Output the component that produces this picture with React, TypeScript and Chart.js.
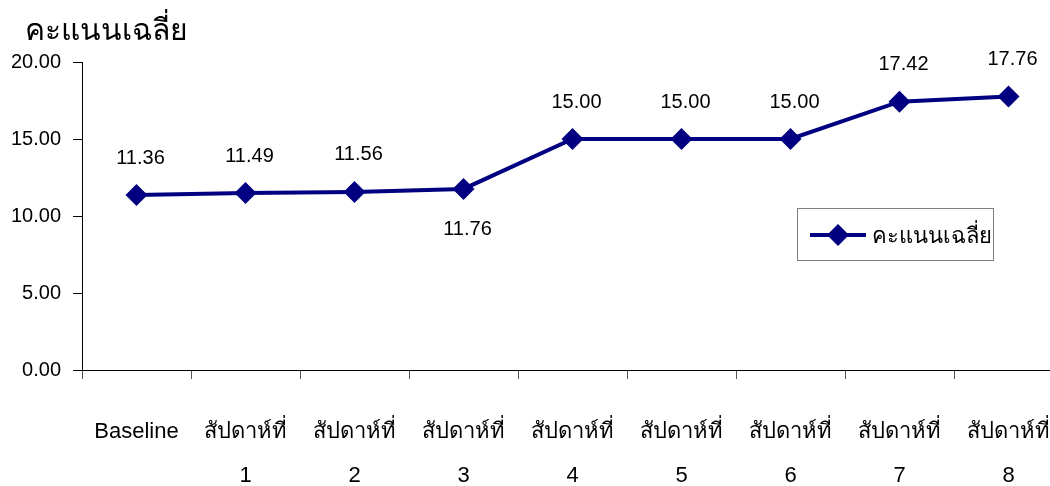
import React, { useEffect, useRef } from "react";
import { Chart, registerables } from "chart.js";

Chart.register(...registerables);

const categories: (string | string[])[] = [
  "Baseline",
  ["สัปดาห์ที่", "1"],
  ["สัปดาห์ที่", "2"],
  ["สัปดาห์ที่", "3"],
  ["สัปดาห์ที่", "4"],
  ["สัปดาห์ที่", "5"],
  ["สัปดาห์ที่", "6"],
  ["สัปดาห์ที่", "7"],
  ["สัปดาห์ที่", "8"],
];
const scores = [11.36, 11.49, 11.56, 11.76, 15.0, 15.0, 15.0, 17.42, 17.76];
const seriesName = "คะแนนเฉลี่ย";
const axisTitle = "คะแนนเฉลี่ย";
const labelsBelow = [3];

const FONT = "Arial, 'Liberation Sans', Tahoma, sans-serif";
const NAVY = "#000080";

const CANVAS_W = 1074;
const CANVAS_H = 486;
const PLOT_BOTTOM = 370;

const overlayPlugin = {
  id: "overlay",
  afterDatasetsDraw(chart: any) {
    const ctx = chart.ctx;
    const meta = chart.getDatasetMeta(0);
    ctx.save();
    // data labels
    ctx.fillStyle = "#000";
    ctx.font = `20px ${FONT}`;
    ctx.textAlign = "center";
    ctx.textBaseline = "middle";
    meta.data.forEach((pt: any, i: number) => {
      const v = chart.data.datasets[0].data[i] as number;
      const below = labelsBelow.includes(i);
      ctx.fillText(v.toFixed(2), pt.x + 4, pt.y + (below ? 41 : -37));
    });
    // axis title
    ctx.font = `30px ${FONT}`;
    ctx.textAlign = "left";
    ctx.fillText(axisTitle, 25, 32);
    // legend box
    const bx = 797.5, by = 208.5, bw = 196, bh = 52;
    ctx.fillStyle = "#fff";
    ctx.fillRect(bx, by, bw, bh);
    ctx.strokeStyle = "#808080";
    ctx.lineWidth = 1;
    ctx.strokeRect(bx, by, bw, bh);
    const ly = 235;
    ctx.strokeStyle = NAVY;
    ctx.lineWidth = 4;
    ctx.beginPath();
    ctx.moveTo(810, ly);
    ctx.lineTo(866, ly);
    ctx.stroke();
    ctx.fillStyle = NAVY;
    ctx.beginPath();
    const cx = 838, r = 11;
    ctx.moveTo(cx, ly - r);
    ctx.lineTo(cx + r, ly);
    ctx.lineTo(cx, ly + r);
    ctx.lineTo(cx - r, ly);
    ctx.closePath();
    ctx.fill();
    ctx.fillStyle = "#000";
    ctx.font = `22px ${FONT}`;
    ctx.textAlign = "left";
    ctx.textBaseline = "middle";
    ctx.fillText(seriesName, 872, ly + 2);
    ctx.restore();
  },
};

export default function App() {
  const ref = useRef<HTMLCanvasElement | null>(null);
  useEffect(() => {
    if (!ref.current) return;
    const chart = new Chart(ref.current, {
      type: "line",
      data: {
        labels: categories as any,
        datasets: [
          {
            label: seriesName,
            data: scores,
            borderColor: NAVY,
            backgroundColor: NAVY,
            borderWidth: 4,
            pointStyle: "rectRot",
            pointRadius: 11,
            pointBorderWidth: 0,
            pointBackgroundColor: NAVY,
            tension: 0,
          },
        ],
      },
      options: {
        responsive: false,
        animation: false,
        layout: { padding: { left: 0, top: 62, right: 7, bottom: 0 } },
        plugins: {
          legend: { display: false },
          tooltip: { enabled: false },
          title: { display: false },
        },
        scales: {
          x: {
            type: "category",
            offset: true,
            grid: {
              offset: true,
              drawOnChartArea: false,
              drawTicks: true,
              tickLength: 9,
              color: "#555",
            },
            border: { display: true, color: "#000", width: 1 },
            ticks: {
              color: "#000",
              font: { family: FONT, size: 22, lineHeight: 2.0 },
              padding: 31,
              maxRotation: 0,
              autoSkip: false,
            },
            afterFit: (s: any) => {
              s.height = CANVAS_H - PLOT_BOTTOM;
              s.paddingLeft = 0;
              s.paddingRight = 0;
            },
          },
          y: {
            min: 0,
            max: 20,
            grid: {
              drawOnChartArea: false,
              drawTicks: true,
              tickLength: 9,
              color: "#000",
            },
            border: { display: true, color: "#000", width: 1 },
            ticks: {
              stepSize: 5,
              color: "#000",
              font: { family: FONT, size: 20 },
              padding: 12,
              callback: (v: any) => Number(v).toFixed(2),
            },
            afterFit: (s: any) => {
              s.width = 82;
              s.paddingTop = 0;
              s.paddingBottom = 0;
            },
          },
        },
      },
      plugins: [overlayPlugin],
    });
    return () => chart.destroy();
  }, []);
  return (
    <div
      style={{
        position: "fixed",
        left: 0,
        top: 0,
        width: 1050,
        height: 486,
        overflow: "hidden",
        background: "#fff",
      }}
    >
      <canvas
        ref={ref}
        width={CANVAS_W}
        height={CANVAS_H}
        style={{ width: CANVAS_W, height: CANVAS_H, display: "block" }}
      />
    </div>
  );
}
